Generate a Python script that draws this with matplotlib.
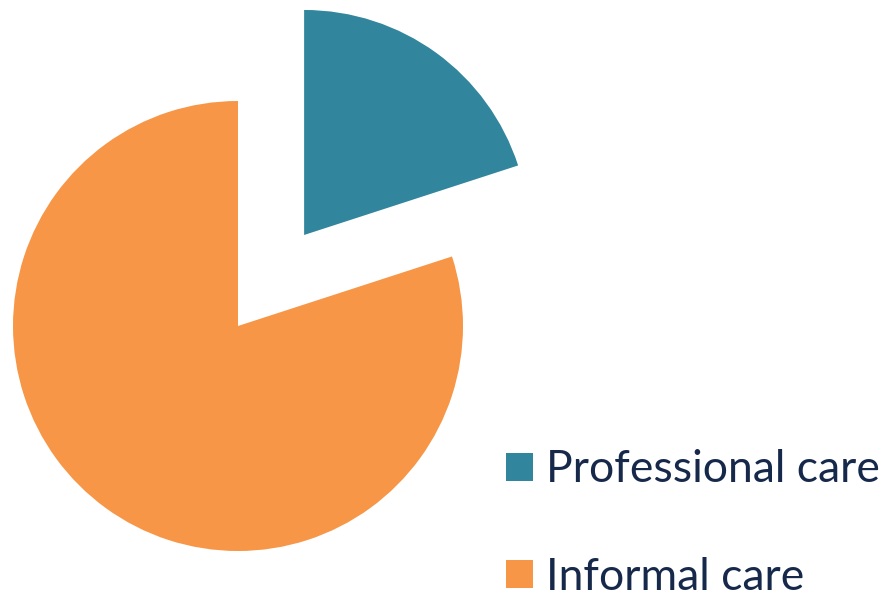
import matplotlib.pyplot as plt

labels = ["Professional care", "Informal care"]
shares = [20, 80]
colors = ["#31859C", "#F79646"]
explode = [0.5, 0]

plt.rcParams['font.family'] = ['Lato', 'DejaVu Sans']

fig = plt.figure(figsize=(8.83, 5.92), dpi=100)
ax = fig.add_axes([0, 0, 1, 1])

R = 225.0  # pie radius in pixels
cx, cy = 238, 592 - 326
wedges, _ = ax.pie(shares, colors=colors, explode=explode, startangle=90,
                   counterclock=False, radius=1.0,
                   wedgeprops=dict(linewidth=0))
ax.set_xlim(-cx / R, (883 - cx) / R)
ax.set_ylim(-cy / R, (592 - cy) / R)
ax.set_aspect('auto')
ax.axis('off')

leg = ax.legend(wedges, labels, loc='lower left', bbox_to_anchor=(506 / 883, -6 / 592),
                frameon=False, fontsize=32, handlelength=0.6, handleheight=0.6,
                handletextpad=0.3, labelspacing=1.5, borderaxespad=0, borderpad=0)
for t in leg.get_texts():
    t.set_color("#17294A")

fig.savefig("out.png", dpi=100)
